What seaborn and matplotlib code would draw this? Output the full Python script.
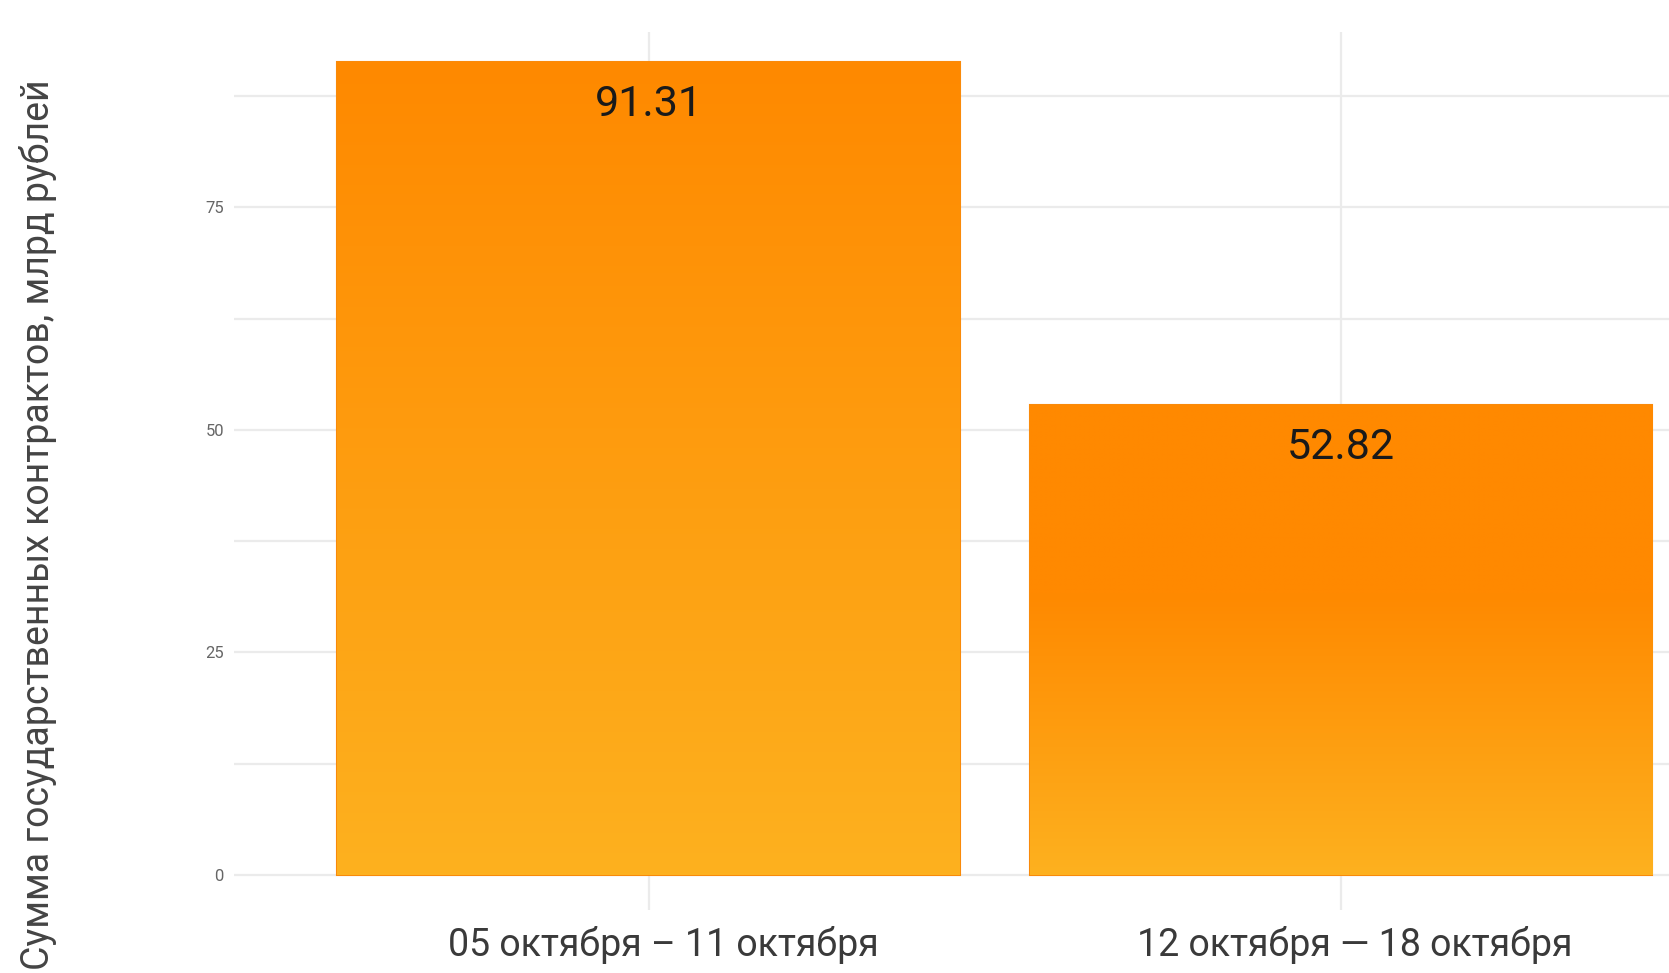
import numpy as np
import pandas as pd
import matplotlib
matplotlib.use("Agg")
import matplotlib.pyplot as plt
import matplotlib.transforms as mtransforms
from matplotlib.colors import to_rgb
import seaborn as sns

# data
periods = ["05 октября – 11 октября", "12 октября — 18 октября"]
amounts = [91.31, 52.82]
y_ticks = [0, 25, 50, 75]

df = pd.DataFrame({"period": periods, "amount": amounts})

sns.set_theme(style="white")
plt.rcParams["font.family"] = ["Roboto", "DejaVu Sans"]

fig = plt.figure(figsize=(16.69, 9.73), dpi=100)
ax = fig.add_axes([0.140, 0.065, 0.860, 0.902])

sns.barplot(data=df, x="period", y="amount", ax=ax, width=0.9,
            color="#FF8A00", edgecolor="#F98A0A", linewidth=1.5,
            saturation=1, zorder=3)

# gradient fill: dark orange at the top, yellowish at the bottom
top_col = np.array(to_rgb("#FF8900"))
bot_col = np.array(to_rgb("#FDB11F"))
grad_span = [1.0, 0.6]  # share of bar height (from bottom) that fades
for patch, span in zip(ax.patches, grad_span):
    x0, y0 = patch.get_x(), patch.get_y()
    w, h = patch.get_width(), patch.get_height()
    t = np.linspace(0, 1, 256)
    f = np.clip(t / span, 0, 1)
    rgb = bot_col[None, :] * (1 - f[:, None]) + top_col[None, :] * f[:, None]
    img = np.repeat(rgb[:, None, :], 2, axis=1)
    im = ax.imshow(img, extent=[x0, x0 + w, y0, y0 + h], origin="lower",
                   aspect="auto", zorder=3.5, interpolation="bilinear")
    im.set_clip_path(patch)

for i, v in enumerate(amounts):
    ax.text(i, v - 4.8, f"{v:.2f}", ha="center", va="center",
            fontsize=31, color="#1a1a1a", zorder=5)

ax.set_xlim(-0.6, 1.474)
ax.set_ylim(-3.93, 94.7)
ax.set_yticks(y_ticks)
ax.set_yticks([12.5, 37.5, 62.5, 87.5], minor=True)
ax.grid(True, which="both", color="#EBEBEB", linewidth=1.6, zorder=0)
ax.set_axisbelow(True)
for s in ax.spines.values():
    s.set_visible(False)

ax.tick_params(axis="y", which="both", length=0, pad=7, labelsize=12,
               labelcolor="#666666")
ax.tick_params(axis="x", length=0, pad=12, labelsize=27, labelcolor="#3a3a3a")
# labels sit a little right of the bar centres in the reference
shift = mtransforms.ScaledTranslation(0.14, 0, fig.dpi_scale_trans)
for lbl in ax.get_xticklabels():
    lbl.set_transform(lbl.get_transform() + shift)
ax.set_xlabel("")
ax.set_ylabel("")

fig.text(38 / 1669, 0.461, "Сумма государственных контрактов, млрд рублей",
         rotation=90, ha="center", va="center", fontsize=27, color="#444444")

fig.savefig("out.png", dpi=100)
